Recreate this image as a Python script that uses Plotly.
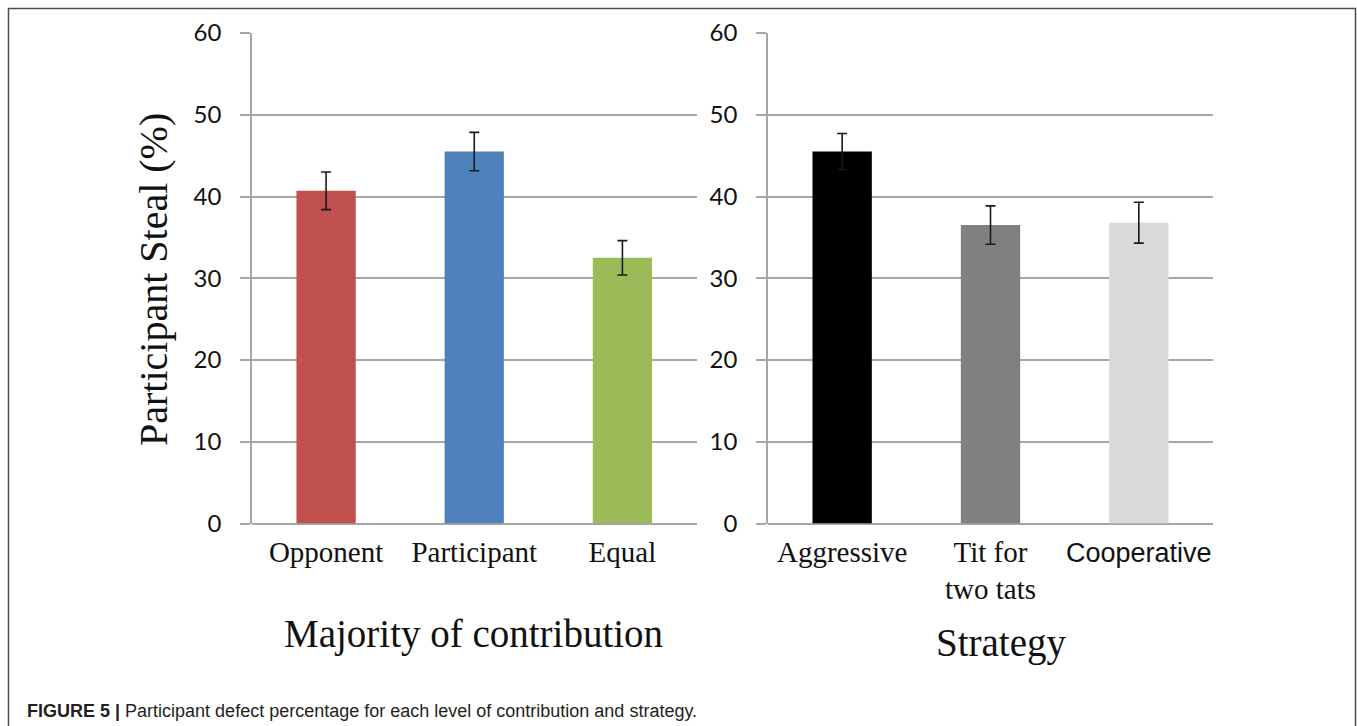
import plotly.graph_objects as go

# Left panel: steal rate by who contributed the majority
contribution = ["Opponent", "Participant", "Equal"]
contribution_steal = [40.7, 45.5, 32.5]
contribution_err = [2.3, 2.35, 2.1]
contribution_colors = ["#c0504d", "#4f81bd", "#9bbb59"]

# Right panel: steal rate by opponent strategy
strategy = ["Aggressive", "Tit for two tats", "Cooperative"]
strategy_ticktext = [
    "Aggressive",
    "Tit for<br>two tats",
    "<span style=\"font-family:Arial;font-size:27px\">Cooperative</span>",
]
strategy_steal = [45.5, 36.5, 36.8]
strategy_err = [2.2, 2.35, 2.5]
strategy_colors = ["#000000", "#808080", "#d9d9d9"]

y_ticks = [0, 10, 20, 30, 40, 50, 60]

W, H = 1357, 726
GRID = "#a6a6a6"
SERIF = "Liberation Serif"

fig = go.Figure()

fig.add_trace(go.Bar(
    x=contribution, y=contribution_steal,
    marker=dict(color=contribution_colors, line=dict(width=0)),
    error_y=dict(type="data", array=contribution_err, color="#1a1a1a",
                 thickness=1.6, width=5),
    xaxis="x", yaxis="y", showlegend=False,
))
fig.add_trace(go.Bar(
    x=strategy, y=strategy_steal,
    marker=dict(color=strategy_colors, line=dict(width=0)),
    error_y=dict(type="data", array=strategy_err, color="#1a1a1a",
                 thickness=1.6, width=5),
    xaxis="x2", yaxis="y2", showlegend=False,
))

def px_x(p):
    return p / W

def px_y(p):
    return 1 - p / H

y_dom = [px_y(523.5), px_y(33)]

yaxis_common = dict(
    range=[0, 60], tickvals=y_ticks, domain=y_dom, automargin=False,
    showgrid=True, gridcolor=GRID, gridwidth=1.5,
    zeroline=True, zerolinecolor=GRID, zerolinewidth=1.5,
    showline=True, linecolor=GRID, linewidth=1.5,
    ticks="outside", ticklen=10, tickcolor=GRID, tickwidth=1.5,
    tickfont=dict(family="Lato", size=24, color="#111111"),
    ticklabelstandoff=14, fixedrange=True,
)
xaxis_common = dict(
    showgrid=False, zeroline=False, showline=False, ticks="", automargin=False,
    tickfont=dict(family=SERIF, size=29, color="#111111"),
    ticklabelstandoff=8, fixedrange=True,
)

fig.update_layout(
    width=W, height=H,
    margin=dict(l=0, r=0, t=0, b=0, autoexpand=False),
    paper_bgcolor="white", plot_bgcolor="white",
    bargap=0.6,
    xaxis=dict(domain=[px_x(252), px_x(696.5)], anchor="y",
               tickvals=contribution, ticktext=contribution, **xaxis_common),
    yaxis=dict(anchor="x", **yaxis_common),
    xaxis2=dict(domain=[px_x(768), px_x(1213)], anchor="y2",
                tickvals=strategy, ticktext=strategy_ticktext, **xaxis_common),
    yaxis2=dict(anchor="x2", **yaxis_common),
)

annotations = [
    dict(text="Participant Steal (%)", x=px_x(153), y=px_y(280),
         textangle=-90, font=dict(family=SERIF, size=40, color="#111111")),
    dict(text="Majority of contribution", x=px_x(473), y=px_y(634),
         font=dict(family=SERIF, size=39, color="#111111")),
    dict(text="Strategy", x=px_x(1001), y=px_y(643),
         font=dict(family=SERIF, size=39, color="#111111")),
]
for a in annotations:
    a.update(xref="paper", yref="paper", showarrow=False,
             xanchor="center", yanchor="middle")
fig.update_layout(annotations=annotations)

fig.add_annotation(
    text="<b>FIGURE 5 |</b> Participant defect percentage for each level of contribution and strategy.",
    xref="paper", yref="paper", x=px_x(25), y=px_y(711),
    xanchor="left", yanchor="middle", showarrow=False,
    font=dict(family="Liberation Sans", size=18, color="#231f20"),
)

# Figure frame
fig.add_shape(type="rect", xref="paper", yref="paper",
              x0=px_x(8.5), x1=px_x(1355.5), y0=-0.05, y1=px_y(8.5),
              line=dict(color="#4d4d4d", width=1.5), fillcolor="rgba(0,0,0,0)")

fig.write_html("out.html")
